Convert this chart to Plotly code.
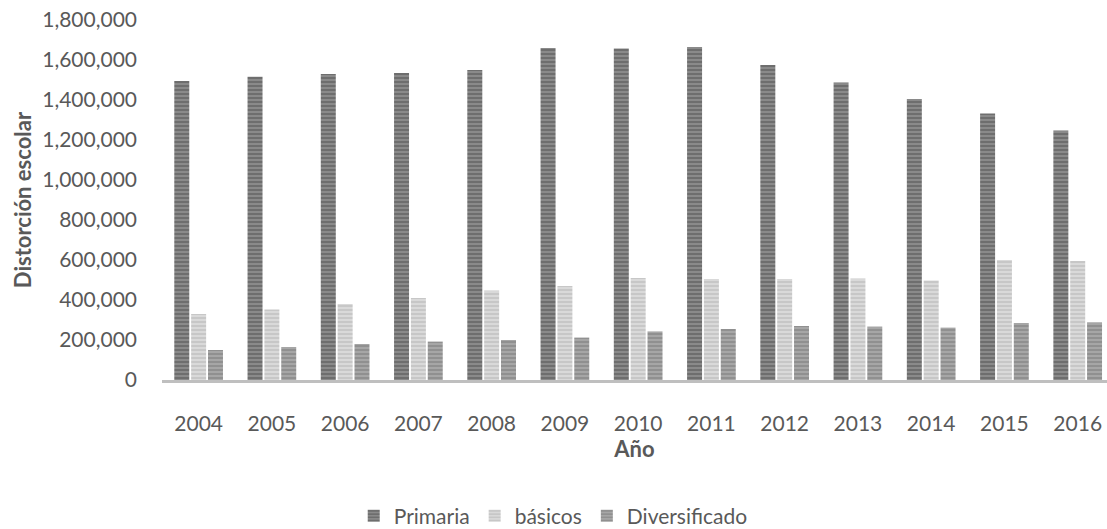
import plotly.graph_objects as go

years = ["2004", "2005", "2006", "2007", "2008", "2009", "2010", "2011", "2012", "2013", "2014", "2015", "2016"]
primaria = [1495000, 1516000, 1530000, 1535000, 1550000, 1660000, 1658000, 1665000, 1575000, 1488000, 1405000, 1333000, 1247000]
basicos = [330000, 353000, 380000, 410000, 447000, 470000, 510000, 505000, 505000, 508000, 497000, 600000, 595000]
diversificado = [150000, 165000, 180000, 192000, 200000, 212000, 243000, 255000, 270000, 267000, 262000, 285000, 288000]

font = "Lato, 'Open Sans', sans-serif"

def bar(name, vals, bg, fg):
    return go.Bar(
        x=years, y=vals, name=name,
        marker=dict(color=bg, line=dict(width=0),
                    pattern=dict(shape="-", fgcolor=fg, bgcolor=bg, size=4, solidity=0.5, fillmode="overlay")),
    )

fig = go.Figure([
    bar("Primaria", primaria, "#8a8a8a", "#525252"),
    bar("básicos", basicos, "#d9d9d9", "#b5b5b5"),
    bar("Diversificado", diversificado, "#a6a6a6", "#7a7a7a"),
])

fig.update_layout(
    width=1107, height=529,
    margin=dict(l=162, r=0, t=20, b=149, autoexpand=False),
    plot_bgcolor="white", paper_bgcolor="white",
    barmode="group", bargap=0.31, bargroupgap=0.11,
    font=dict(family=font, size=21, color="#595959"),
    legend=dict(orientation="h", x=0.414, xanchor="center", y=-0.378, yanchor="middle",
                font=dict(size=21, color="#595959"), itemwidth=30, traceorder="normal"),
    xaxis=dict(type="category", range=[-0.5, 12.4], showgrid=False, automargin=False,
               showline=True, linecolor="#bfbfbf", linewidth=3,
               ticks="", ticklabelstandoff=23,
               tickfont=dict(size=21),
               title=dict(text="<b>Año</b>", font=dict(size=22, color="#595959"), standoff=3)),
    yaxis=dict(range=[0, 1800000], dtick=200000, tickformat=",d", showgrid=False, automargin=False,
               zeroline=False, showline=False, ticks="", ticklabelstandoff=24,
               tickfont=dict(size=21),
               title=dict(text="<b>Distorción escolar</b>", font=dict(size=22, color="#595959"), standoff=4)),
)

fig.write_html("out.html", config={"displayModeBar": False},
               post_script="document.body.style.margin='0';document.body.style.overflow='hidden';")
